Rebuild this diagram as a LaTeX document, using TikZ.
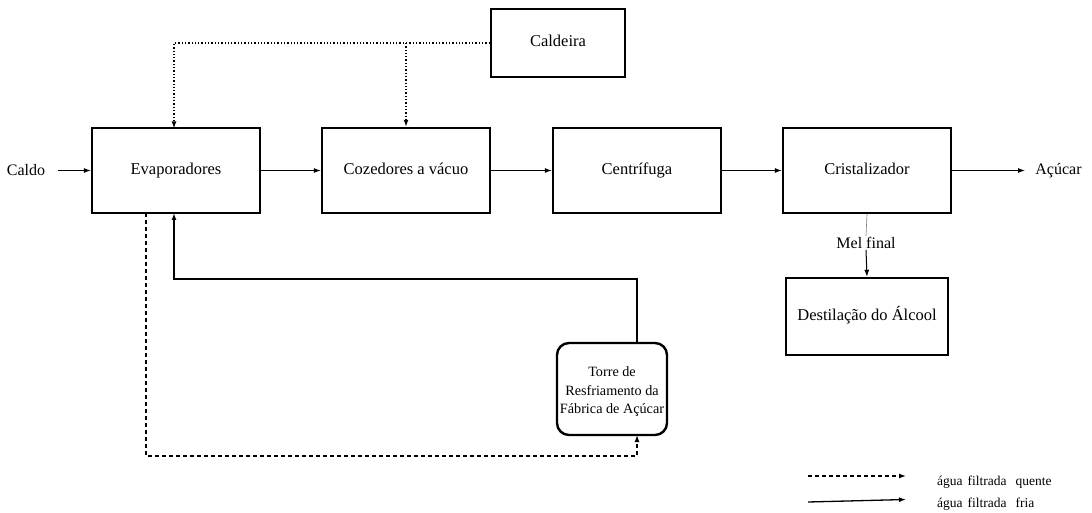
\documentclass[tikz,border=0pt]{standalone}
\usepackage{fontspec}
\setmainfont{Liberation Serif}
\usetikzlibrary{arrows.meta}
\begin{document}
\begin{tikzpicture}[x=1pt,y=-1pt,
  proc/.style={draw,line width=2.4pt,minimum width=168pt,minimum height=85pt,font=\fontsize{16.5}{19}\selectfont,text height=11.5pt,text depth=3.5pt,inner sep=0pt},
  tower/.style={draw,line width=2.4pt,rounded corners=12pt,minimum width=110pt,minimum height=92pt,align=center,font=\fontsize{14.2}{18.5}\selectfont,inner sep=0pt},
  lbl/.style={font=\fontsize{16}{18}\selectfont,inner sep=1pt},
  legtxt/.style={font=\fontsize{13.5}{15}\selectfont,anchor=west,inner sep=0pt},
  flow/.style={line width=1pt,-{Latex[length=7pt,width=5pt]}},
  steam/.style={line width=1.3pt,dotted,-{Latex[length=7pt,width=5pt]}},
  hot/.style={line width=1.3pt,dash pattern=on 4pt off 3pt,-{Latex[length=7pt,width=5pt]}},
  cold/.style={line width=1.3pt,-{Latex[length=7pt,width=5pt]}}]
\useasboundingbox (0,0) rectangle (1092,513);

% process units
\node[proc,minimum width=134pt,minimum height=68pt] (cald) at (558,43) {Caldeira};
\node[proc] (evap) at (176,170.5) {Evaporadores};
\node[proc] (coz) at (406,170.5) {Cozedores a vácuo};
\node[proc] (cent) at (637,170.5) {Centrífuga};
\node[proc] (crist) at (867,170.5) {Cristalizador};
\node[proc,minimum width=162pt,minimum height=77pt] (dest) at (867,316.5) {Destilação do Álcool};
\node[tower] (torre) at (612,389) {};
\node[align=center,font=\fontsize{14.2}{18.5}\selectfont,inner sep=0pt] (torretxt) at (612,392) {Torre de\\Resfriamento da\\Fábrica de Açúcar};

% inlet and outlet labels
\node[lbl,anchor=center] (caldo) at (26,170.5) {Caldo};
\node[lbl,anchor=center] (acucar) at (1058.5,170.5) {Açúcar};
\node[lbl] (mel) at (866,243) {Mel final};

% main line
\coordinate (in) at (58,170.5);
\coordinate (out) at (1025,170.5);
\draw[flow] (in) -- (evap.west);
\draw[flow] (evap) -- (coz);
\draw[flow] (coz) -- (cent);
\draw[flow] (cent) -- (crist);
\draw[flow] (crist.east) -- (out);
\draw[line width=0.6pt,gray] (crist.south) -- (mel.north);
\draw[flow] (mel.south) -- (dest.north);

% steam from the boiler
\coordinate (sj) at (406,43);
\draw[steam] (cald.west) -- (174,43) -- (174,128.5);
\draw[steam] (sj) -- (coz.north);

% cooling water loop
\coordinate (tt) at (637,343);
\coordinate (tb) at (637,435);
\draw[cold] (tt) -- (637,279) -- (174,279) -- (174,213);
\draw[hot] (146,213) -- (146,456) -- (637,456) -- (tb);

% legend
\coordinate (l1) at (808,476);
\coordinate (l2) at (808,502);
\draw[hot] (l1) -- ++(98,0);
\draw[cold] (l2) -- ++(98,-2.5);
\node[legtxt] (t1) at (937,482) {água\hspace{5pt}filtrada\hspace{9pt}quente};
\node[legtxt] (t2) at (937,504) {água\hspace{5pt}filtrada\hspace{9pt}fria};
\end{tikzpicture}
\end{document}
